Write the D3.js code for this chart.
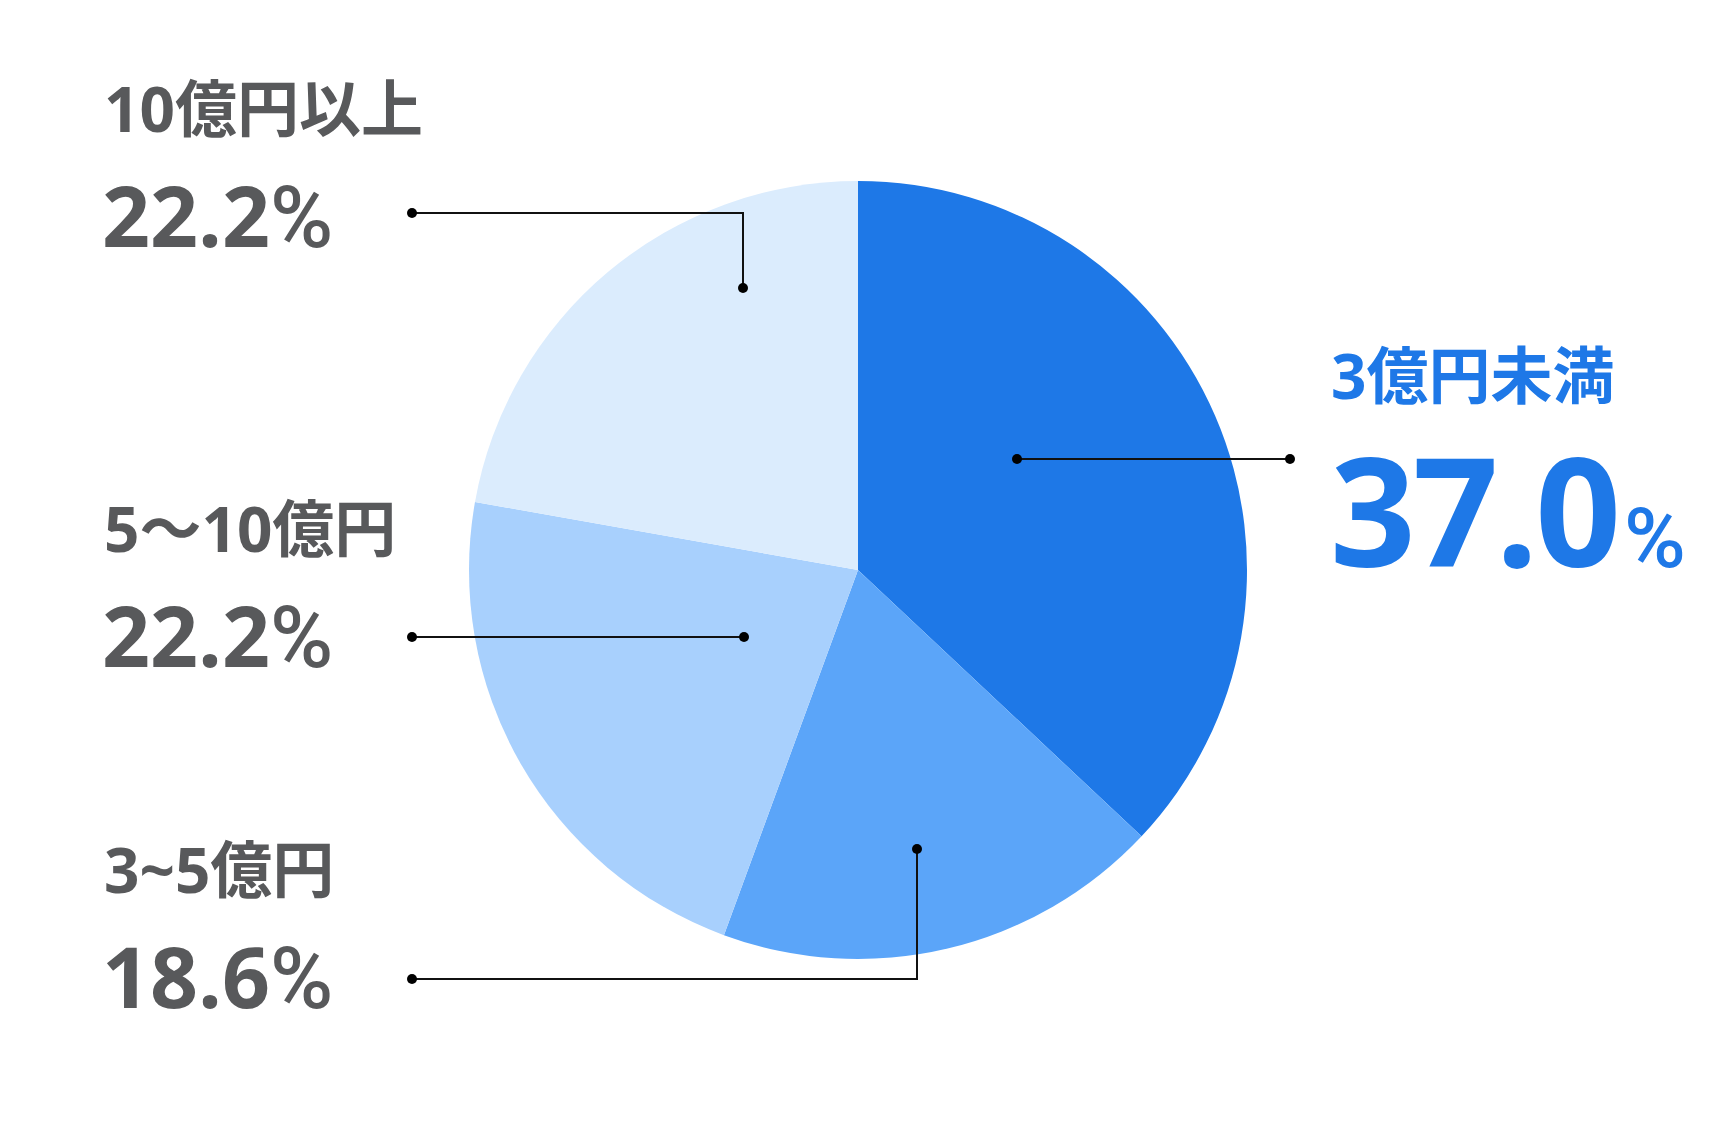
<!DOCTYPE html>
<html>
<head>
<meta charset="utf-8">
<script src="https://cdn.jsdelivr.net/npm/d3@7"></script>
<style>
  html, body { margin: 0; padding: 0; background: #ffffff; }
  svg { display: block; }
  text { font-family: "Open Sans", "Noto Sans CJK JP", sans-serif; font-weight: 700; }
  .pct { font-family: Roboto, "Open Sans", sans-serif; font-weight: 500; }
</style>
</head>
<body>
<svg id="chart" width="1715" height="1130"></svg>
<script>
// ---- data ----
const categories = ["3億円未満", "3~5億円", "5～10億円", "10億円以上"];
const values = [37.0, 18.6, 22.2, 22.2];
const valueLabels = ["37.0", "18.6", "22.2", "22.2"];
const colors = ["#1e78e7", "#5ba5f9", "#a8d0fd", "#dbecfd"];

// ---- layout ----
const cx = 858, cy = 570, R = 389;
const gray = "#58595b";
const blue = "#1e78e7";

const svg = d3.select("#chart");

const pie = d3.pie().sort(null).value(d => d)
  .startAngle(0).endAngle(2 * Math.PI);
const arc = d3.arc().innerRadius(0).outerRadius(R);

const g = svg.append("g").attr("transform", `translate(${cx},${cy})`);
g.selectAll("path")
  .data(pie(values))
  .join("path")
  .attr("d", arc)
  .attr("fill", (d, i) => colors[i]);

// leader lines (pixel layout, per category index)
const leaders = [
  { pts: [[1017, 459], [1290, 459]] },
  { pts: [[917, 849], [917, 979], [412, 979]] },
  { pts: [[744, 637], [412, 637]] },
  { pts: [[743, 288], [743, 213], [412, 213]] }
];
const line = d3.line();
leaders.forEach(l => {
  svg.append("path")
    .attr("d", line(l.pts))
    .attr("fill", "none")
    .attr("stroke", "#111")
    .attr("stroke-width", 2);
  [l.pts[0], l.pts[l.pts.length - 1]].forEach(p => {
    svg.append("circle").attr("cx", p[0]).attr("cy", p[1]).attr("r", 5).attr("fill", "#000");
  });
});

// labels
const labelPos = [
  null,
  { x: 104, y1: 893, y2: 1008 },
  { x: 104, y1: 552, y2: 667 },
  { x: 104, y1: 132, y2: 247 }
];
labelPos.forEach((p, i) => {
  if (!p) return;
  svg.append("text").attr("x", p.x).attr("y", p.y1)
    .attr("font-size", 62).attr("fill", gray).text(categories[i]);
  const t = svg.append("text").attr("x", p.x - 2).attr("y", p.y2)
    .attr("font-size", 84).attr("fill", gray);
  t.append("tspan").text(valueLabels[i]);
  t.append("tspan").attr("class", "pct").attr("font-size", 86).text("%");
});

// highlighted label (largest slice)
svg.append("text").attr("x", 1331).attr("y", 399)
  .attr("font-size", 62).attr("fill", blue).text(categories[0]);
const big = svg.append("text").attr("x", 1330).attr("y", 567)
  .attr("letter-spacing", -3).attr("fill", blue);
big.append("tspan").attr("font-size", 150).text(valueLabels[0]);
big.append("tspan").attr("class", "pct").attr("font-size", 84).attr("dx", 6).text("%");
</script>
</body>
</html>
